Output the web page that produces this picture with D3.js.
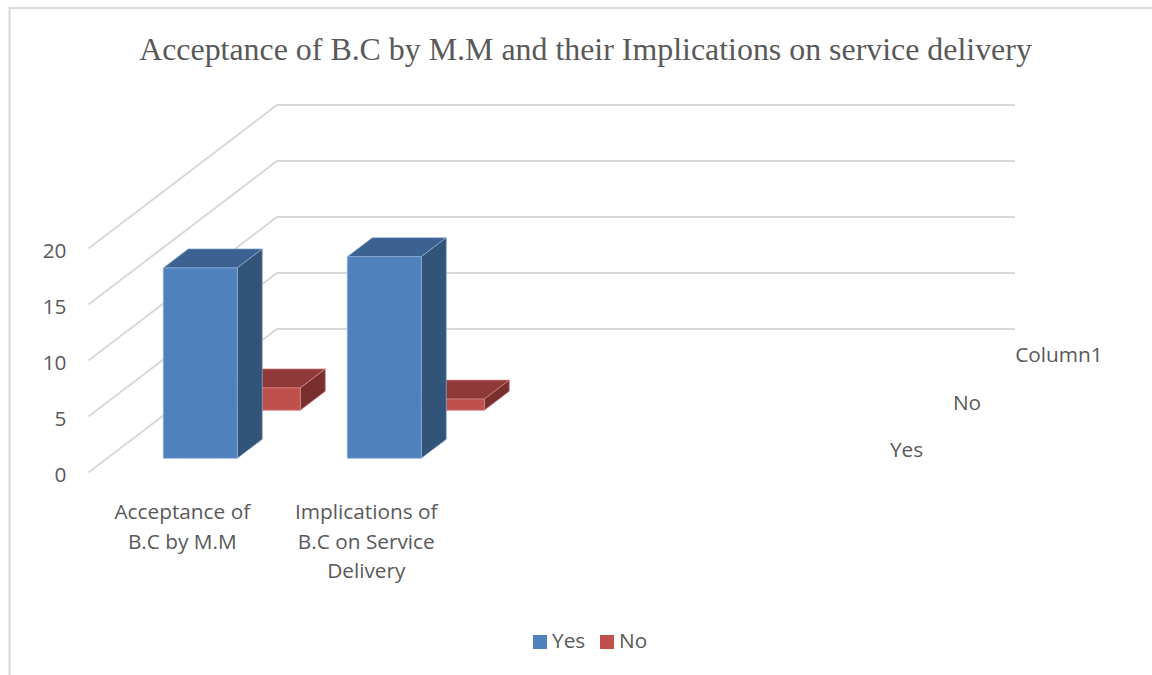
<!DOCTYPE html>
<html><head><meta charset="utf-8">
<script src="https://cdnjs.cloudflare.com/ajax/libs/d3/7.8.5/d3.min.js"></script>
<style>html,body{margin:0;padding:0;background:#fff}svg{display:block}</style>
</head><body><svg id="c" width="1152" height="675"></svg>
<script>
const title = "Acceptance of B.C by M.M and their Implications on service delivery";
const categories = ["Acceptance of B.C by M.M", "Implications of B.C on Service Delivery"];
const categoryLines = [["Acceptance of", "B.C by M.M"], ["Implications of", "B.C on Service", "Delivery"]];
const seriesNames = ["Yes", "No"];
const yesValues = [17, 18];
const noValues = [2, 1];
const yTicks = [0, 5, 10, 15, 20];
const depthLabels = ["Yes", "No", "Column1"];

const svg = d3.select("#c");
const textColor = "#595959", gridColor = "#d9d9d9";
const bodyFont = "'Open Sans', 'Noto Sans', sans-serif";
const bodySize = 20.8;

// frame
svg.append("path").attr("d", "M9.5,675V8H1152").attr("fill", "none").attr("stroke", gridColor).attr("stroke-width", 2);

svg.append("text").attr("x", 585.5).attr("y", 60).attr("text-anchor", "middle")
  .attr("font-family", "'Liberation Serif', serif").attr("font-size", 31.9).attr("fill", textColor).text(title);

// scales
const y = d3.scaleLinear().domain([0, 20]).range([472.5, 248.5]);
const wallDx = 188.5, wallDy = -143.5, wallRight = 1015;

// gridlines
svg.append("g").selectAll("path").data(yTicks).join("path")
  .attr("d", d => `M${88.5},${y(d)}L${88.5 + wallDx},${y(d) + wallDy}H${wallRight}`)
  .attr("fill", "none").attr("stroke", gridColor).attr("stroke-width", 2);

// value axis
const axis = d3.axisLeft(y).tickValues(yTicks).tickSize(0).tickPadding(0);
const ag = svg.append("g").attr("transform", "translate(66.5,2)").call(axis);
ag.select(".domain").remove();
ag.selectAll("text").attr("font-family", bodyFont).attr("font-size", bodySize).attr("fill", textColor);

// bars
const x = d3.scaleBand().domain(categories).range([163.3, 531.3]).paddingInner(0).paddingOuter(0);
const barW = 74, dx = 25, dy = -19, baseY = 458.3, redOffsetX = 63, redOffsetY = -48;
const h = d3.scaleLinear().domain([0, 20]).range([0, 224]);

function bar3d(g, x0, base, value, front, top, side, edge) {
  const b = base, t = base - h(value), x1 = x0 + barW;
  const face = (d, fill) => g.append("path").attr("d", d).attr("fill", fill)
    .attr("stroke", edge).attr("stroke-width", 0.7).attr("stroke-linejoin", "round");
  face(`M${x0},${t}L${x0 + dx},${t + dy}H${x1 + dx}L${x1},${t}Z`, top);
  face(`M${x1},${t}L${x1 + dx},${t + dy}V${b + dy}L${x1},${b}Z`, side);
  face(`M${x0},${t}H${x1}V${b}H${x0}Z`, front);
}
const bars = svg.append("g");
categories.forEach((c, i) => {
  bar3d(bars, x(c) + redOffsetX, baseY + redOffsetY, noValues[i], "#c0504d", "#8f3a38", "#792f2d", "#d98a88");
  bar3d(bars, x(c), baseY, yesValues[i], "#4f81bd", "#3c6291", "#325479", "#8fb0d8");
});

// category labels
const catText = svg.append("g").attr("font-family", bodyFont).attr("font-size", bodySize)
  .attr("fill", textColor).attr("text-anchor", "middle");
categories.forEach((c, i) => {
  categoryLines[i].forEach((line, j) => {
    catText.append("text").attr("x", x(c) + 19).attr("y", 519 + j * 29.7).text(line);
  });
});

// depth axis labels
const depthAnchors = d3.scaleOrdinal().domain(depthLabels).range([906.5, 967, 1059]);
const depthY = d3.scalePoint().domain(depthLabels).range([457, 362]);
svg.append("g").selectAll("text").data(depthLabels).join("text")
  .attr("x", d => depthAnchors(d)).attr("y", d => depthY(d))
  .attr("text-anchor", "middle").attr("font-family", bodyFont).attr("font-size", bodySize)
  .attr("fill", textColor).text(d => d);

// legend
const legendColor = d3.scaleOrdinal().domain(seriesNames).range(["#4f81bd", "#c0504d"]);
const legendX = d3.scaleOrdinal().domain(seriesNames).range([533, 600]);
const lg = svg.append("g").selectAll("g").data(seriesNames).join("g")
  .attr("transform", d => `translate(${legendX(d)},635)`);
lg.append("rect").attr("width", 14).attr("height", 14).attr("fill", d => legendColor(d));
lg.append("text").attr("x", 19).attr("y", 13).attr("font-family", bodyFont).attr("font-size", bodySize)
  .attr("fill", textColor).text(d => d);
</script></body></html>
